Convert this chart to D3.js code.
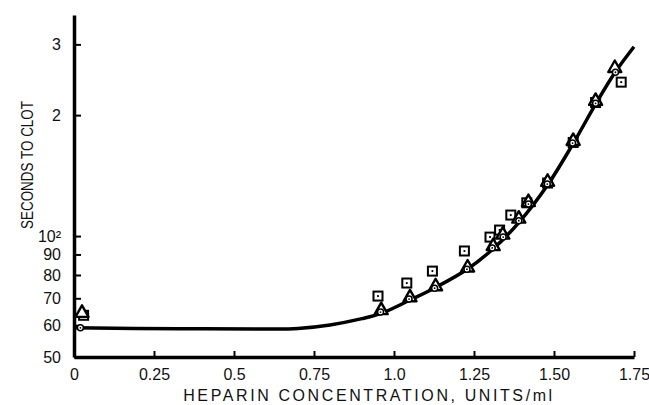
<!DOCTYPE html>
<meta charset="utf-8">
<html lang="en">
<head>
  <title>Seconds to clot vs heparin concentration</title>
  <script src="https://d3js.org/d3.v7.min.js"></script>
  <style>
    body { margin: 0; background: #fff; }
    text { font-family: "Liberation Sans", Arial, sans-serif; fill: #111; }
  </style>
</head>
<body>
<div id="my_dataviz"></div>
<script>
// x tick values and their printed labels
var xTicks = [0, 0.25, 0.5, 0.75, 1.0, 1.25, 1.5, 1.75];
var xTickLabels = ["0", "0.25", "0.5", "0.75", "1.0", "1.25", "1.50", "1.75"];

// y ticks (log axis) and the way they are printed
var yTicks = [50, 60, 70, 80, 90, 100, 200, 300];
var yTickLabels = ["50", "60", "70", "80", "90", "10\u00b2", "2", "3"];

// fitted curve
var curveX = [0, 0.33, 0.6, 0.7, 0.8, 0.9, 0.96, 1.05, 1.13, 1.23, 1.31, 1.39, 1.48, 1.56, 1.63, 1.69, 1.75];
var curveY = [59.1, 58.8, 58.7, 58.9, 60.1, 62.3, 64.2, 69.3, 74.5, 82.8, 93, 108, 134, 170, 213, 255, 296];

// circles (dot in the middle)
var circleX = [0.02, 0.958, 1.047, 1.127, 1.228, 1.307, 1.341, 1.39, 1.42, 1.479, 1.558, 1.63, 1.692];
var circleY = [59.1, 64.7, 69.7, 74.2, 82.7, 93.4, 99.4, 109.2, 120.1, 134.7, 170.4, 214, 255.7];

// triangles
var triX = [0.025, 0.96, 1.05, 1.13, 1.23, 1.31, 1.34, 1.39, 1.42, 1.48, 1.56, 1.63, 1.69];
var triY = [64.4, 65.4, 70.4, 75, 83.5, 94.4, 100.8, 110.5, 121.5, 136.5, 172.5, 217, 262];

// squares
var sqX = [0.03, 0.95, 1.04, 1.12, 1.22, 1.30, 1.33, 1.365, 1.415, 1.48, 1.56, 1.63, 1.71];
var sqY = [63.5, 70.9, 76.4, 81.8, 91.8, 99.4, 103.5, 112.8, 121, 135.5, 171, 215, 241.6];

var width = 649, height = 405;

var svg = d3.select("#my_dataviz")
  .append("svg")
    .attr("width", width)
    .attr("height", height);

var x = d3.scaleLinear()
  .domain([0, 1.75])
  .range([74, 634]);

var y = d3.scaleLog()
  .domain([50, 355])
  .range([357, 15]);

// x axis, ticks pointing up into the plot
var xAxis = svg.append("g")
  .attr("transform", "translate(0," + y(50) + ")")
  .call(d3.axisBottom(x)
    .tickValues(xTicks)
    .tickSizeInner(-6)
    .tickSizeOuter(0)
    .tickPadding(12)
    .tickFormat(function(d, i) { return xTickLabels[i]; }));
xAxis.select(".domain").attr("stroke-width", 3.5);
xAxis.selectAll(".tick line").attr("stroke-width", 2);
xAxis.selectAll("text").style("font-size", "16px").attr("fill", "#111");

// y axis, ticks pointing right
var yAxis = svg.append("g")
  .attr("transform", "translate(" + x(0) + ",0)")
  .call(d3.axisLeft(y)
    .tickValues(yTicks)
    .tickSizeInner(-7)
    .tickSizeOuter(0)
    .tickPadding(13)
    .tickFormat(function(d, i) { return yTickLabels[i]; }));
yAxis.select(".domain").attr("stroke-width", 3.5);
yAxis.selectAll(".tick line").attr("stroke-width", 2);
yAxis.selectAll("text").style("font-size", "16px").attr("fill", "#111");

// axis titles
svg.append("text")
  .attr("x", 369)
  .attr("y", 401)
  .style("text-anchor", "middle")
  .style("font-size", "16px")
  .style("letter-spacing", "2.6px")
  .text("HEPARIN CONCENTRATION, UNITS/ml");

svg.append("text")
  .attr("transform", "rotate(-90)")
  .attr("x", -165)
  .attr("y", 33)
  .attr("textLength", 128)
  .attr("lengthAdjust", "spacingAndGlyphs")
  .style("text-anchor", "middle")
  .style("font-size", "17px")
  .text("SECONDS TO CLOT");

// the curve
var curveData = curveX.map(function(d, i) { return [d, curveY[i]]; });
svg.append("path")
  .datum(curveData)
  .attr("fill", "none")
  .attr("stroke", "#000")
  .attr("stroke-width", 3.5)
  .attr("stroke-linejoin", "round")
  .attr("d", d3.line()
    .curve(d3.curveCatmullRom)
    .x(function(d) { return x(d[0]); })
    .y(function(d) { return y(d[1]); }));

// squares
var sq = svg.append("g").selectAll("g")
  .data(sqX.map(function(d, i) { return [d, sqY[i]]; }))
  .enter().append("g")
  .attr("transform", function(d) { return "translate(" + x(d[0]) + "," + y(d[1]) + ")"; });
sq.append("rect")
  .attr("x", -4.5).attr("y", -4.5)
  .attr("width", 9).attr("height", 9)
  .attr("fill", "#fff")
  .attr("stroke", "#000")
  .attr("stroke-width", 2);
sq.append("circle").attr("r", 1.1).attr("fill", "#000");

// triangles
var tri = svg.append("g").selectAll("path")
  .data(triX.map(function(d, i) { return [d, triY[i]]; }))
  .enter().append("path")
  .attr("transform", function(d) { return "translate(" + x(d[0]) + "," + y(d[1]) + ")"; })
  .attr("d", "M0,-7.5L6.5,4L-6.5,4Z")
  .attr("fill", "#fff")
  .attr("stroke", "#000")
  .attr("stroke-width", 2.4)
  .attr("stroke-linejoin", "round");

// circles
var circ = svg.append("g").selectAll("g")
  .data(circleX.map(function(d, i) { return [d, circleY[i]]; }))
  .enter().append("g")
  .attr("transform", function(d) { return "translate(" + x(d[0]) + "," + y(d[1]) + ")"; });
circ.append("circle")
  .attr("r", 3)
  .attr("fill", "#fff")
  .attr("stroke", "#000")
  .attr("stroke-width", 1.5);
circ.append("circle").attr("r", 0.9).attr("fill", "#000");
</script>
</body>
</html>
